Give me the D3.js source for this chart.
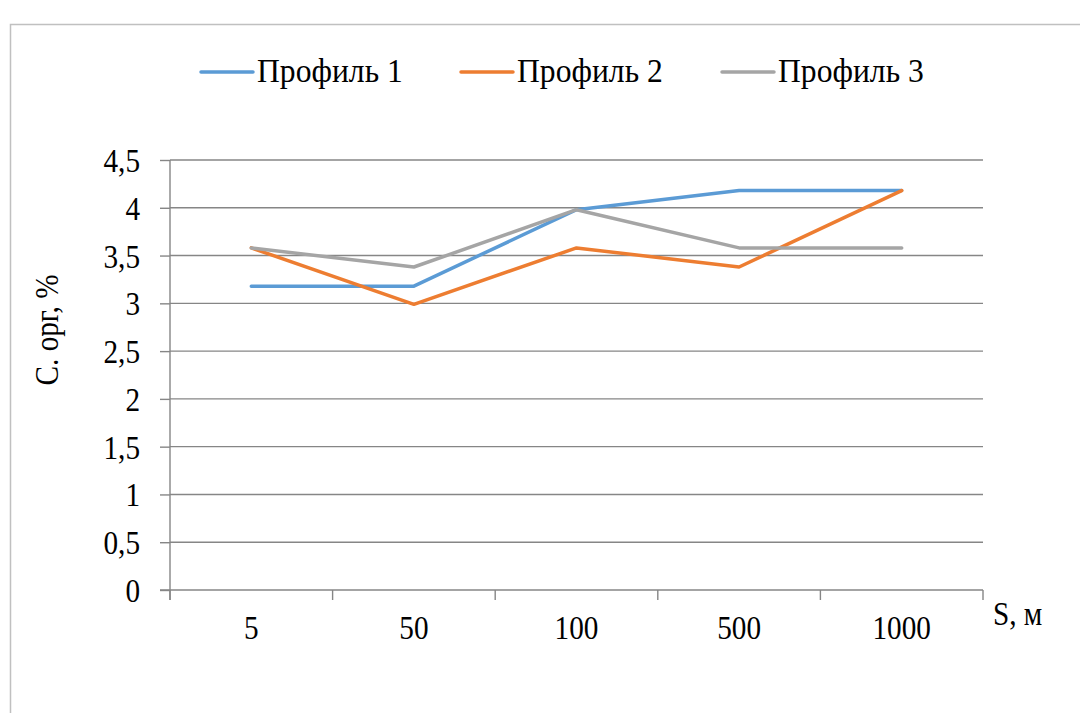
<!DOCTYPE html>
<html>
<head>
<meta charset="utf-8">
<script src="https://cdn.jsdelivr.net/npm/d3@7"></script>
<style>
  body { margin: 0; background: #fff; }
</style>
</head>
<body>
<svg width="1080" height="713"></svg>
<script>
var categories = ["5", "50", "100", "500", "1000"];
var seriesNames = ["Профиль 1", "Профиль 2", "Профиль 3"];
var profile1 = [3.18, 3.18, 3.98, 4.18, 4.18];
var profile2 = [3.58, 2.99, 3.58, 3.38, 4.18];
var profile3 = [3.58, 3.38, 3.98, 3.58, 3.58];
var yTicks = [0, 0.5, 1, 1.5, 2, 2.5, 3, 3.5, 4, 4.5];
var colors = ["#5b9bd5", "#ed7d31", "#a5a5a5"];

var svg = d3.select("svg"),
    plotLeft = 170, plotRight = 983, plotTop = 160, plotBottom = 590,
    fontSize = 34, squeeze = 0.86,
    serif = "'Liberation Serif', 'Times New Roman', serif";

var series = [profile1, profile2, profile3];

// outer chart frame (runs off the page on right and bottom)
svg.append("rect")
    .attr("x", 10.5).attr("y", 24.5)
    .attr("width", 1100).attr("height", 720)
    .attr("fill", "none").attr("stroke", "#c0c0c0").attr("stroke-width", 1.5);

var x = d3.scaleBand().domain(categories).range([plotLeft, plotRight]);
var y = d3.scaleLinear().domain([0, 4.5]).range([plotBottom, plotTop]);

function label(g, tx, ty, txt, anchor, sq) {
  return g.append("text")
      .attr("transform", "translate(" + tx + "," + ty + ") scale(" + (sq || squeeze) + ",1)")
      .attr("text-anchor", anchor || "start")
      .attr("font-family", serif)
      .attr("font-size", fontSize)
      .attr("fill", "#000")
      .text(txt);
}

// gridlines
svg.append("g").selectAll("line")
    .data(yTicks.filter(function(d) { return d > 0; }))
    .enter().append("line")
    .attr("x1", plotLeft).attr("x2", plotRight)
    .attr("y1", function(d) { return y(d); })
    .attr("y2", function(d) { return y(d); })
    .attr("stroke", "#868686").attr("stroke-width", 1.4);

// y axis
var yAxis = svg.append("g")
    .attr("transform", "translate(" + plotLeft + ",0)")
    .call(d3.axisLeft(y).tickValues(yTicks).tickSize(10).tickFormat(""));
yAxis.select(".domain").remove();
yAxis.selectAll(".tick line").attr("stroke", "#868686").attr("stroke-width", 1.4);
svg.append("line")
    .attr("x1", plotLeft).attr("x2", plotLeft).attr("y1", plotTop).attr("y2", plotBottom + 10)
    .attr("stroke", "#868686").attr("stroke-width", 1.4);
yTicks.forEach(function(t) {
  label(svg, 140, y(t) + 12, String(t).replace(".", ","), "end");
});

// x axis
svg.append("line")
    .attr("x1", plotLeft - 10).attr("x2", plotRight).attr("y1", plotBottom).attr("y2", plotBottom)
    .attr("stroke", "#868686").attr("stroke-width", 1.6);
var edges = categories.map(function(c) { return x(c); }).concat([plotRight]);
svg.append("g").selectAll("line")
    .data(edges).enter().append("line")
    .attr("x1", function(d) { return d; }).attr("x2", function(d) { return d; })
    .attr("y1", plotBottom).attr("y2", plotBottom + 10)
    .attr("stroke", "#868686").attr("stroke-width", 1.4);
categories.forEach(function(c) {
  label(svg, x(c) + x.bandwidth() / 2, 639, c, "middle");
});
label(svg, 993, 625, "S, м");

// axis title
svg.append("text")
    .attr("transform", "translate(58,330) rotate(-90) scale(" + squeeze + ",1)")
    .attr("text-anchor", "middle")
    .attr("font-family", serif)
    .attr("font-size", fontSize)
    .text("С. орг, %");

// lines
var line = d3.line()
    .x(function(d, i) { return x(categories[i]) + x.bandwidth() / 2; })
    .y(function(d) { return y(d); });

series.forEach(function(s, i) {
  svg.append("path")
      .datum(s)
      .attr("d", line)
      .attr("fill", "none")
      .attr("stroke", colors[i])
      .attr("stroke-width", 3.5)
      .attr("stroke-linejoin", "round")
      .attr("stroke-linecap", "round");
});

// legend
var legendX = [201, 461, 722];
seriesNames.forEach(function(n, i) {
  svg.append("line")
      .attr("x1", legendX[i]).attr("x2", legendX[i] + 52)
      .attr("y1", 72).attr("y2", 72)
      .attr("stroke", colors[i]).attr("stroke-width", 3.5)
      .attr("stroke-linecap", "round");
  label(svg, legendX[i] + 56, 82, n, "start", 0.93);
});
</script>
</body>
</html>
